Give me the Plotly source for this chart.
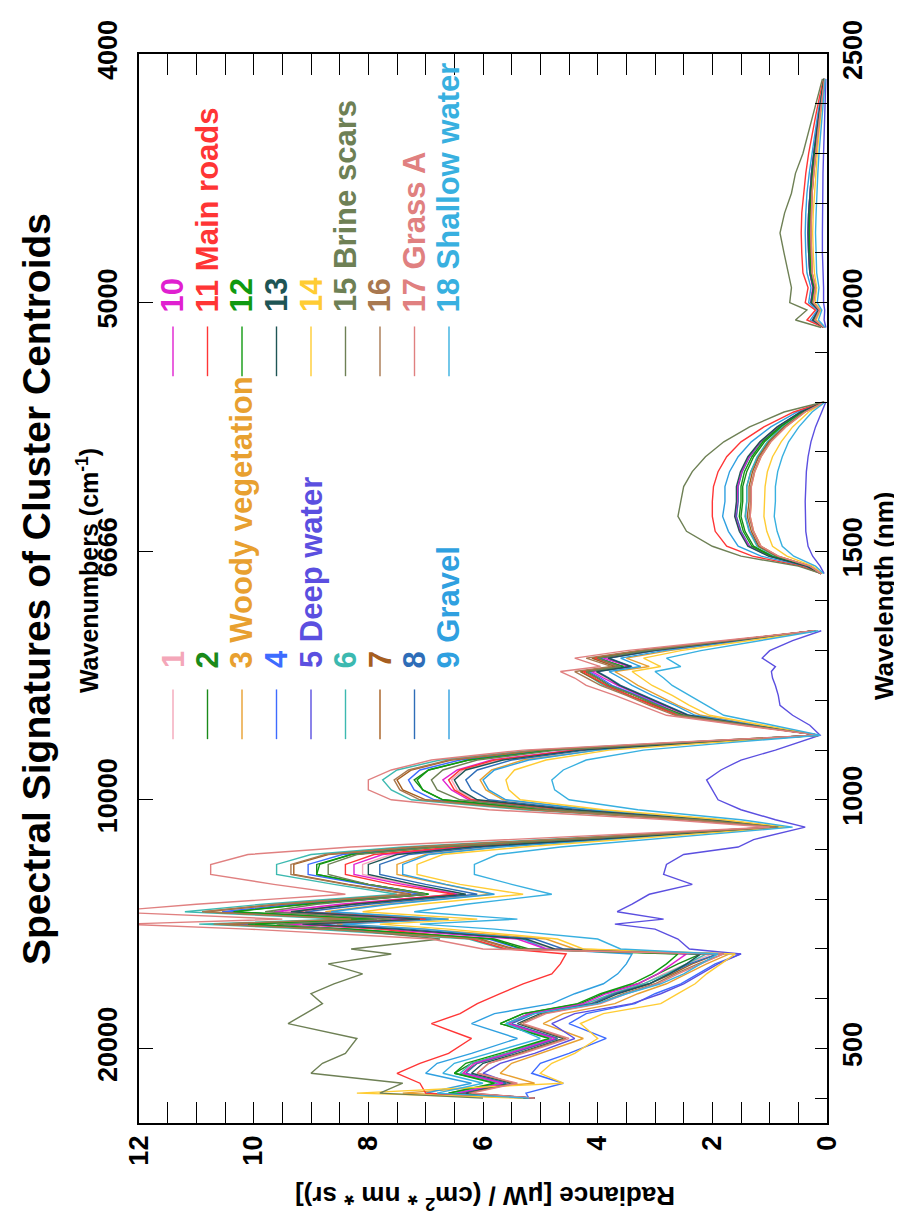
import plotly.graph_objects as go

# ---------------- data ----------------
WL_VNIR = [400, 410, 430, 450, 470, 490, 520, 550, 570, 590, 610, 630, 650, 670, 690,
           700, 720, 740, 750, 760, 775, 790, 810, 830, 850, 870, 890, 905, 920, 945,
           960, 980, 1000, 1020, 1040, 1060, 1080, 1100, 1115, 1130,
           1150, 1170, 1190, 1210, 1230, 1245, 1258, 1268, 1285, 1300, 1320, 1340]
WL_SWIR1 = [1455, 1470, 1490, 1510, 1540, 1570, 1600, 1630, 1660, 1690, 1720, 1750, 1780, 1800]
WL_SWIR2 = [1950, 1965, 1985, 2000, 2030, 2060, 2100, 2140, 2180, 2220, 2260, 2300, 2340, 2380, 2420, 2450]

NAMES = ["1", "2", "3 Woody vegetation", "4", "5 Deep water", "6", "7", "8", "9 Gravel",
         "10", "11 Main roads", "12", "13", "14", "15 Brine scars", "16", "17 Grass A", "18 Shallow water"]
COLORS = ["#F4A7B9", "#1A8A1A", "#E8A030", "#3D6BFF", "#5B4FE0", "#3CB9B0", "#A65E20", "#2E6DB8", "#2FA0E0",
          "#E020D0", "#FF3535", "#109A10", "#1E5555", "#FFCC33", "#6E8055", "#A87850", "#E08080", "#38B0E0"]

R01_VNIR = [5.15, 6.5, 5.65, 6.35, 6.2, 5.55, 4.75, 5.6, 5.2, 4.15, 3.75, 3.2, 2.85, 2.45, 2.0,
            4.8, 5.3, 7.6, 9.25, 7.2, 9.45, 8.3, 6.35, 7.3, 8.1, 8.1, 7.6, 6.25, 4.15, 0.8, 2.1, 4.45, 6.15, 6.45, 6.55, 6.35, 5.7, 4.35, 2.3, 0.15,
            1.3, 2.45, 2.85, 3.25, 3.65, 3.85, 4.05, 3.45, 3.85, 3.0, 1.6, 0.2]
R02_VNIR = [5.2, 6.6, 5.7, 6.5, 6.2, 5.6, 4.8, 5.7, 5.3, 4.3, 3.9, 3.3, 2.95, 2.6, 2.2,
            5.2, 5.8, 8.3, 10.15, 7.85, 10.4, 9.1, 6.95, 8.0, 8.9, 8.9, 8.3, 6.85, 4.55, 0.85, 2.3, 4.9, 6.7, 7.05, 7.2, 6.95, 6.25, 4.8, 2.5, 0.15,
            1.35, 2.5, 2.95, 3.35, 3.8, 4.0, 4.2, 3.55, 4.0, 3.15, 1.7, 0.2]
R03_VNIR = [5.2, 7.4, 5.1, 5.7, 5.5, 5.0, 4.25, 4.95, 4.6, 3.7, 3.3, 2.8, 2.45, 2.1, 1.7,
            4.4, 4.9, 7.0, 8.55, 6.6, 8.75, 7.7, 5.85, 6.7, 7.5, 7.5, 7.0, 5.75, 3.85, 0.75, 1.9, 4.1, 5.65, 5.95, 6.05, 5.85, 5.3, 4.0, 2.1, 0.15,
            1.2, 2.2, 2.6, 2.95, 3.3, 3.5, 3.7, 3.1, 3.5, 2.75, 1.45, 0.2]
R04_VNIR = [5.2, 5.25, 4.6, 5.15, 5.0, 4.5, 3.85, 4.5, 4.2, 3.35, 3.0, 2.55, 2.25, 1.95, 1.5,
            5.35, 5.9, 8.45, 10.3, 8.0, 10.55, 9.3, 7.1, 8.1, 9.05, 9.05, 8.45, 6.95, 4.65, 0.85, 2.3, 5.0, 6.85, 7.2, 7.3, 7.1, 6.4, 4.85, 2.55, 0.15,
            1.4, 2.55, 2.9, 3.3, 3.75, 3.95, 4.15, 3.6, 3.95, 3.1, 1.65, 0.2]
R05_VNIR = [5.1, 6.3, 5.5, 6.0, 5.7, 5.1, 4.4, 4.8, 4.4, 3.4, 2.9, 2.5, 2.2, 1.9, 1.5,
            2.4, 2.6, 3.0, 3.7, 2.85, 3.66, 3.4, 3.1, 2.35, 2.85, 2.8, 2.5, 1.55, 1.28, 0.38, 0.9, 1.5, 1.9, 2.0, 2.1, 1.85, 1.5, 0.9, 0.5, 0.12,
            0.3, 0.6, 0.82, 0.85, 0.9, 0.95, 0.97, 0.9, 1.13, 1.0, 0.6, 0.1]
R06_VNIR = [5.1, 6.5, 5.7, 6.4, 6.2, 5.6, 4.8, 5.6, 5.2, 4.2, 3.75, 3.2, 2.8, 2.45, 2.1,
            5.65, 6.25, 9.0, 10.95, 8.5, 11.2, 9.85, 7.5, 8.6, 9.6, 9.6, 9.0, 7.4, 4.9, 0.9, 2.45, 5.3, 7.25, 7.6, 7.75, 7.5, 6.75, 5.15, 2.7, 0.15,
            1.4, 2.6, 3.0, 3.45, 3.9, 4.1, 4.3, 3.65, 4.1, 3.25, 1.75, 0.2]
R07_VNIR = [5.1, 6.4, 5.6, 6.35, 6.1, 5.5, 4.7, 5.55, 5.15, 4.1, 3.7, 3.1, 2.7, 2.35, 1.9,
            5.45, 6.05, 8.7, 10.6, 8.2, 10.85, 9.5, 7.25, 8.35, 9.3, 9.3, 8.7, 7.15, 4.75, 0.9, 2.4, 5.1, 7.0, 7.4, 7.5, 7.25, 6.55, 5.0, 2.6, 0.15,
            1.4, 2.6, 3.0, 3.45, 3.85, 4.1, 4.3, 3.7, 4.1, 3.25, 1.75, 0.2]
R08_VNIR = [5.1, 6.4, 5.6, 6.3, 6.1, 5.5, 4.7, 5.5, 5.1, 4.1, 3.7, 3.1, 2.75, 2.4, 1.9,
            4.6, 5.1, 7.3, 8.9, 6.9, 9.1, 8.0, 6.1, 7.0, 7.8, 7.8, 7.3, 6.0, 4.0, 0.8, 2.0, 4.3, 5.9, 6.2, 6.3, 6.1, 5.5, 4.2, 2.2, 0.15,
            1.3, 2.4, 2.8, 3.2, 3.6, 3.8, 4.0, 3.4, 3.8, 3.0, 1.6, 0.2]
R09_VNIR = [5.2, 7.0, 6.2, 7.0, 6.8, 6.2, 5.4, 6.2, 5.8, 4.8, 4.4, 3.9, 3.65, 3.5, 3.4,
            4.9, 5.3, 7.0, 8.45, 6.6, 8.65, 7.6, 5.8, 6.65, 7.4, 7.4, 6.95, 5.7, 3.8, 0.75, 1.9, 4.1, 5.6, 5.9, 6.0, 5.8, 5.2, 4.0, 2.1, 0.15,
            1.25, 2.3, 2.65, 3.05, 3.4, 3.6, 3.8, 3.25, 3.6, 2.85, 1.5, 0.2]
R10_VNIR = [5.1, 6.45, 5.65, 6.35, 6.15, 5.55, 4.75, 5.55, 5.2, 4.25, 3.85, 3.3, 2.95, 2.7, 2.45,
            4.9, 5.4, 7.75, 9.45, 7.3, 9.65, 8.5, 6.45, 7.4, 8.25, 8.25, 7.75, 6.35, 4.25, 0.85, 2.1, 4.55, 6.25, 6.55, 6.7, 6.45, 5.85, 4.45, 2.35, 0.15,
            1.33, 2.45, 2.85, 3.25, 3.65, 3.9, 4.1, 3.45, 3.9, 3.05, 1.65, 0.2]
R11_VNIR = [5.2, 7.0, 7.1, 7.5, 7.1, 6.6, 6.2, 6.9, 6.4, 6.1, 5.7, 5.3, 4.8, 4.65, 4.55,
            5.6, 6.2, 7.8, 9.1, 7.0, 9.3, 8.3, 6.5, 7.6, 8.4, 8.4, 7.9, 6.5, 4.3, 0.8, 2.1, 4.6, 6.2, 6.5, 6.6, 6.4, 5.8, 4.4, 2.3, 0.15,
            1.4, 2.6, 3.05, 3.45, 3.85, 4.05, 4.25, 3.6, 4.05, 3.2, 1.75, 0.2]
R12_VNIR = [5.2, 6.6, 5.8, 6.5, 6.3, 5.7, 4.85, 5.7, 5.3, 4.35, 3.95, 3.4, 3.05, 2.8, 2.6,
            5.3, 5.85, 8.3, 10.1, 7.9, 10.35, 9.1, 6.95, 8.0, 8.9, 8.85, 8.3, 6.8, 4.55, 0.85, 2.3, 4.9, 6.7, 7.05, 7.15, 6.95, 6.25, 4.8, 2.5, 0.15,
            1.35, 2.5, 2.95, 3.35, 3.8, 4.0, 4.2, 3.55, 4.0, 3.15, 1.7, 0.2]
R13_VNIR = [5.1, 6.3, 5.5, 6.2, 6.0, 5.4, 4.6, 5.4, 5.0, 4.05, 3.65, 3.1, 2.75, 2.45, 2.2,
            4.75, 5.25, 7.5, 9.15, 7.1, 9.35, 8.25, 6.3, 7.2, 8.0, 8.0, 7.5, 6.2, 4.1, 0.8, 2.05, 4.45, 6.1, 6.4, 6.5, 6.3, 5.65, 4.3, 2.25, 0.15,
            1.32, 2.42, 2.82, 3.22, 3.62, 3.82, 4.02, 3.42, 3.82, 3.02, 1.62, 0.2]
R14_VNIR = [5.3, 8.2, 4.6, 5.0, 4.8, 4.4, 4.0, 4.3, 3.9, 2.9, 2.6, 2.3, 2.1, 1.85, 1.6,
            4.25, 4.7, 6.6, 7.8, 6.1, 8.1, 7.1, 5.3, 6.4, 7.15, 7.15, 6.7, 5.3, 3.6, 0.7, 1.8, 3.9, 5.35, 5.55, 5.6, 5.45, 4.9, 3.8, 2.0, 0.15,
            1.1, 2.05, 2.4, 2.7, 3.05, 3.25, 3.4, 2.9, 3.2, 2.55, 1.35, 0.17]
R15_VNIR = [6.0, 7.8, 7.4, 9.0, 8.8, 8.4, 8.2, 9.4, 9.1, 8.8, 9.0, 8.6, 8.1, 8.7, 7.6,
            8.3, 6.75, 8.5, 9.6, 7.6, 9.8, 8.9, 7.0, 8.0, 8.7, 8.7, 8.2, 6.8, 4.5, 0.85, 2.2, 4.8, 6.4, 6.8, 6.9, 6.7, 6.1, 4.7, 2.45, 0.15,
            1.35, 2.55, 2.95, 3.35, 3.8, 4.0, 4.2, 3.6, 4.0, 3.15, 1.7, 0.2]
R16_VNIR = [5.1, 6.25, 5.45, 6.1, 5.9, 5.35, 4.55, 5.35, 4.95, 4.0, 3.55, 3.0, 2.65, 2.25, 1.8,
            5.5, 6.1, 8.75, 10.7, 8.3, 10.9, 9.6, 7.3, 8.4, 9.35, 9.35, 8.75, 7.2, 4.8, 0.9, 2.4, 5.15, 7.1, 7.45, 7.55, 7.3, 6.6, 5.05, 2.65, 0.15,
            1.45, 2.65, 3.1, 3.5, 3.95, 4.2, 4.4, 3.75, 4.2, 3.3, 1.75, 0.22]
R17_VNIR = [5.1, 6.2, 5.4, 6.1, 5.9, 5.3, 4.5, 5.3, 4.9, 3.95, 3.5, 2.95, 2.6, 2.2, 1.8,
            6.0, 6.9, 10.1, 12.3, 9.5, 12.6, 11.0, 8.4, 9.65, 10.75, 10.75, 10.1, 8.3, 5.5, 1.0, 2.75, 5.9, 7.6, 8.0, 8.0, 7.6, 6.9, 5.3, 2.8, 0.15,
            1.5, 2.8, 3.25, 3.7, 4.2, 4.4, 4.65, 3.95, 4.4, 3.5, 1.85, 0.22]
R18_VNIR = [5.2, 6.8, 6.0, 6.7, 6.5, 5.9, 5.0, 5.6, 5.1, 4.0, 3.5, 2.9, 2.5, 2.2, 1.9,
            3.6, 4.0, 5.8, 7.1, 5.4, 7.2, 6.3, 4.8, 5.5, 6.15, 6.15, 5.75, 4.65, 3.1, 0.6, 1.5, 3.3, 4.5, 4.75, 4.8, 4.6, 4.2, 3.2, 1.7, 0.12,
            0.95, 1.8, 2.1, 2.4, 2.7, 2.85, 3.0, 2.55, 2.8, 2.2, 1.2, 0.15]

R01_SWIR1 = [0.1, 0.35, 1.0, 1.35, 1.5, 1.58, 1.55, 1.55, 1.48, 1.35, 1.15, 0.85, 0.45, 0.05]
R02_SWIR1 = [0.1, 0.33, 0.95, 1.28, 1.43, 1.5, 1.47, 1.47, 1.4, 1.28, 1.09, 0.8, 0.43, 0.05]
R03_SWIR1 = [0.1, 0.3, 0.85, 1.15, 1.28, 1.34, 1.32, 1.32, 1.26, 1.15, 0.98, 0.72, 0.38, 0.05]
R04_SWIR1 = [0.1, 0.32, 0.9, 1.2, 1.35, 1.42, 1.4, 1.4, 1.33, 1.2, 1.03, 0.77, 0.4, 0.05]
R05_SWIR1 = [0.05, 0.12, 0.25, 0.33, 0.37, 0.38, 0.38, 0.37, 0.36, 0.33, 0.28, 0.2, 0.1, 0.02]
R06_SWIR1 = [0.1, 0.32, 0.9, 1.22, 1.36, 1.43, 1.4, 1.4, 1.33, 1.22, 1.04, 0.77, 0.41, 0.05]
R07_SWIR1 = [0.1, 0.31, 0.88, 1.19, 1.32, 1.39, 1.36, 1.36, 1.3, 1.19, 1.01, 0.75, 0.4, 0.05]
R08_SWIR1 = [0.1, 0.35, 1.0, 1.35, 1.5, 1.58, 1.55, 1.55, 1.48, 1.35, 1.15, 0.85, 0.45, 0.05]
R09_SWIR1 = [0.1, 0.4, 1.15, 1.55, 1.72, 1.82, 1.78, 1.78, 1.7, 1.55, 1.32, 0.98, 0.52, 0.06]
R10_SWIR1 = [0.1, 0.35, 1.0, 1.36, 1.52, 1.6, 1.57, 1.56, 1.49, 1.36, 1.16, 0.86, 0.46, 0.05]
R11_SWIR1 = [0.1, 0.45, 1.3, 1.75, 1.95, 2.0, 2.0, 1.98, 1.9, 1.75, 1.5, 1.1, 0.58, 0.06]
R12_SWIR1 = [0.1, 0.34, 0.97, 1.31, 1.46, 1.53, 1.5, 1.5, 1.44, 1.31, 1.12, 0.82, 0.44, 0.05]
R13_SWIR1 = [0.1, 0.36, 1.02, 1.38, 1.53, 1.61, 1.58, 1.58, 1.51, 1.38, 1.17, 0.87, 0.46, 0.05]
R14_SWIR1 = [0.08, 0.25, 0.7, 0.95, 1.05, 1.1, 1.09, 1.08, 1.04, 0.95, 0.8, 0.6, 0.32, 0.04]
R15_SWIR1 = [0.1, 0.5, 1.5, 2.0, 2.45, 2.6, 2.55, 2.5, 2.35, 2.12, 1.8, 1.35, 0.75, 0.06]
R16_SWIR1 = [0.1, 0.3, 0.86, 1.16, 1.29, 1.36, 1.33, 1.33, 1.27, 1.16, 0.99, 0.73, 0.39, 0.05]
R17_SWIR1 = [0.1, 0.3, 0.85, 1.15, 1.28, 1.34, 1.32, 1.32, 1.26, 1.15, 0.98, 0.72, 0.38, 0.05]
R18_SWIR1 = [0.06, 0.2, 0.58, 0.78, 0.87, 0.92, 0.9, 0.9, 0.86, 0.78, 0.67, 0.49, 0.26, 0.03]

R01_SWIR2 = [0.05, 0.25, 0.15, 0.28, 0.24, 0.3, 0.32, 0.33, 0.32, 0.3, 0.27, 0.23, 0.19, 0.14, 0.09, 0.05]
R02_SWIR2 = [0.05, 0.24, 0.14, 0.27, 0.23, 0.28, 0.3, 0.31, 0.3, 0.28, 0.26, 0.22, 0.18, 0.13, 0.09, 0.05]
R03_SWIR2 = [0.05, 0.21, 0.13, 0.24, 0.2, 0.26, 0.27, 0.28, 0.27, 0.26, 0.23, 0.2, 0.16, 0.12, 0.08, 0.04]
R04_SWIR2 = [0.05, 0.22, 0.14, 0.25, 0.22, 0.27, 0.29, 0.3, 0.29, 0.27, 0.24, 0.21, 0.17, 0.13, 0.08, 0.05]
R05_SWIR2 = [0.02, 0.05, 0.04, 0.06, 0.06, 0.07, 0.08, 0.08, 0.08, 0.07, 0.07, 0.06, 0.05, 0.04, 0.03, 0.02]
R06_SWIR2 = [0.05, 0.22, 0.14, 0.25, 0.22, 0.27, 0.29, 0.3, 0.29, 0.27, 0.24, 0.21, 0.17, 0.13, 0.08, 0.05]
R07_SWIR2 = [0.05, 0.22, 0.14, 0.25, 0.22, 0.27, 0.29, 0.3, 0.29, 0.27, 0.24, 0.21, 0.17, 0.13, 0.08, 0.05]
R08_SWIR2 = [0.05, 0.25, 0.15, 0.28, 0.24, 0.3, 0.32, 0.33, 0.32, 0.3, 0.27, 0.23, 0.19, 0.14, 0.09, 0.05]
R09_SWIR2 = [0.06, 0.29, 0.17, 0.32, 0.28, 0.35, 0.37, 0.38, 0.37, 0.35, 0.31, 0.26, 0.22, 0.16, 0.1, 0.06]
R10_SWIR2 = [0.05, 0.25, 0.15, 0.28, 0.25, 0.3, 0.32, 0.33, 0.32, 0.3, 0.27, 0.23, 0.19, 0.14, 0.09, 0.05]
R11_SWIR2 = [0.06, 0.35, 0.2, 0.38, 0.33, 0.42, 0.44, 0.45, 0.44, 0.41, 0.37, 0.32, 0.26, 0.19, 0.12, 0.06]
R12_SWIR2 = [0.05, 0.24, 0.14, 0.27, 0.23, 0.28, 0.3, 0.31, 0.3, 0.28, 0.26, 0.22, 0.18, 0.13, 0.09, 0.05]
R13_SWIR2 = [0.05, 0.25, 0.15, 0.28, 0.24, 0.3, 0.32, 0.33, 0.32, 0.3, 0.27, 0.23, 0.19, 0.14, 0.09, 0.05]
R14_SWIR2 = [0.04, 0.19, 0.11, 0.21, 0.18, 0.22, 0.24, 0.25, 0.24, 0.22, 0.2, 0.17, 0.14, 0.1, 0.07, 0.04]
R15_SWIR2 = [0.1, 0.55, 0.35, 0.65, 0.62, 0.68, 0.75, 0.82, 0.74, 0.62, 0.55, 0.42, 0.33, 0.25, 0.15, 0.08]
R16_SWIR2 = [0.05, 0.21, 0.13, 0.24, 0.2, 0.26, 0.27, 0.28, 0.27, 0.26, 0.23, 0.2, 0.16, 0.12, 0.08, 0.04]
R17_SWIR2 = [0.05, 0.21, 0.13, 0.24, 0.2, 0.26, 0.27, 0.28, 0.27, 0.26, 0.23, 0.2, 0.16, 0.12, 0.08, 0.04]
R18_SWIR2 = [0.03, 0.15, 0.09, 0.17, 0.14, 0.18, 0.19, 0.2, 0.19, 0.18, 0.16, 0.14, 0.11, 0.08, 0.05, 0.03]

VNIR = [R01_VNIR, R02_VNIR, R03_VNIR, R04_VNIR, R05_VNIR, R06_VNIR, R07_VNIR, R08_VNIR, R09_VNIR,
        R10_VNIR, R11_VNIR, R12_VNIR, R13_VNIR, R14_VNIR, R15_VNIR, R16_VNIR, R17_VNIR, R18_VNIR]
SWIR1 = [R01_SWIR1, R02_SWIR1, R03_SWIR1, R04_SWIR1, R05_SWIR1, R06_SWIR1, R07_SWIR1, R08_SWIR1, R09_SWIR1,
         R10_SWIR1, R11_SWIR1, R12_SWIR1, R13_SWIR1, R14_SWIR1, R15_SWIR1, R16_SWIR1, R17_SWIR1, R18_SWIR1]
SWIR2 = [R01_SWIR2, R02_SWIR2, R03_SWIR2, R04_SWIR2, R05_SWIR2, R06_SWIR2, R07_SWIR2, R08_SWIR2, R09_SWIR2,
         R10_SWIR2, R11_SWIR2, R12_SWIR2, R13_SWIR2, R14_SWIR2, R15_SWIR2, R16_SWIR2, R17_SWIR2, R18_SWIR2]

WN_TICK_WL = [500, 1000, 1500, 2000, 2500]
WN_TICK_TEXT = ["20000", "10000", "6666", "5000", "4000"]

# ---------------- layout geometry ----------------
W, H = 902, 1215
ML, MR, MT, MB = 131, 83, 40, 100
PW, PH = W - ML - MR, H - MT - MB


def px(xp):
    return (xp - ML) / PW


def py(yp):
    return (H - MB - yp) / PH


FONT = "Liberation Sans, Arial, Helvetica, sans-serif"

fig = go.Figure()
ys = WL_VNIR + [None] + WL_SWIR1 + [None] + WL_SWIR2
for i in range(18):
    assert len(VNIR[i]) == len(WL_VNIR) and len(SWIR1[i]) == len(WL_SWIR1) and len(SWIR2[i]) == len(WL_SWIR2)
    xs = VNIR[i] + [None] + SWIR1[i] + [None] + SWIR2[i]
    fig.add_trace(go.Scatter(x=xs, y=ys, mode="lines", name=NAMES[i],
                             line=dict(color=COLORS[i], width=1.4),
                             connectgaps=False, showlegend=False, hoverinfo="skip"))
# empty trace so that the wavenumber axis is drawn
fig.add_trace(go.Scatter(x=[None], y=[None], xaxis="x", yaxis="y2", showlegend=False, hoverinfo="skip"))

tick_font = dict(family=FONT, size=27, color="black", weight="bold")

fig.update_layout(
    width=W, height=H,
    margin=dict(l=ML, r=MR, t=MT, b=MB),
    paper_bgcolor="white", plot_bgcolor="white",
    showlegend=False,
    xaxis=dict(range=[12, 0], tickmode="linear", tick0=0, dtick=2,
               ticks="inside", ticklen=21, tickwidth=1.3, tickcolor="black",
               minor=dict(dtick=0.5, ticks="inside", ticklen=10, tickwidth=1.3, tickcolor="black"),
               showline=True, linecolor="black", linewidth=1.6, mirror="allticks",
               tickangle=-90, tickfont=tick_font, ticklabelstandoff=0,
               showgrid=False, zeroline=False),
    yaxis=dict(range=[350, 2500], side="right", tickmode="linear", tick0=0, dtick=500,
               ticks="inside", ticklen=12, tickwidth=1.3, tickcolor="black",
               minor=dict(dtick=100, ticks="inside", ticklen=12, tickwidth=1.3, tickcolor="black"),
               showline=True, linecolor="black", linewidth=1.6,
               tickangle=-90, tickfont=tick_font, ticklabelstandoff=1,
               showgrid=False, zeroline=False),
    yaxis2=dict(range=[350, 2500], overlaying="y", side="left", anchor="x",
                tickmode="array", tickvals=WN_TICK_WL, ticktext=WN_TICK_TEXT,
                ticks="inside", ticklen=14, tickwidth=1.3, tickcolor="black",
                showline=True, linecolor="black", linewidth=1.6,
                tickangle=-90, tickfont=tick_font, ticklabelstandoff=9,
                showgrid=False, zeroline=False),
)

annotations = [
    dict(text="Spectral Signatures of Cluster Centroids", x=px(29), y=py(578),
         textangle=-90, font=dict(family=FONT, size=39, color="black", weight="bold")),
    dict(text="Wavenumbers (cm<sup>-1</sup>)", x=px(80), y=py(560),
         textangle=-90, font=dict(family=FONT, size=25, color="black", weight="bold")),
    dict(text="Wavelength (nm)", x=px(876), y=py(585),
         textangle=-90, font=dict(family=FONT, size=26, color="black", weight="bold")),
    dict(text="Radiance [\u03bcW / (cm<sup>2</sup> * nm * sr)]", x=px(477), y=py(1190),
         textangle=180, font=dict(family=FONT, size=26, color="black", weight="bold")),
]
for a in annotations:
    a.update(xref="paper", yref="paper", showarrow=False, xanchor="center", yanchor="middle")

shapes = []
for i in range(18):
    col, row = divmod(i, 9)
    xline = 165 + 34.5 * row
    line_top = 314 if col == 1 else 679
    label_bottom = 302 if col == 1 else 660
    shapes.append(dict(type="line", xref="paper", yref="paper",
                       x0=px(xline), x1=px(xline), y0=py(line_top), y1=py(line_top + 50),
                       line=dict(color=COLORS[i], width=1.4)))
    annotations.append(dict(text=NAMES[i], xref="paper", yref="paper", x=px(xline), y=py(label_bottom),
                            xanchor="center", yanchor="bottom", textangle=-90, showarrow=False,
                            font=dict(family=FONT, size=31, color=COLORS[i], weight="bold")))

fig.update_layout(annotations=annotations, shapes=shapes)
fig.write_html("out.html")
